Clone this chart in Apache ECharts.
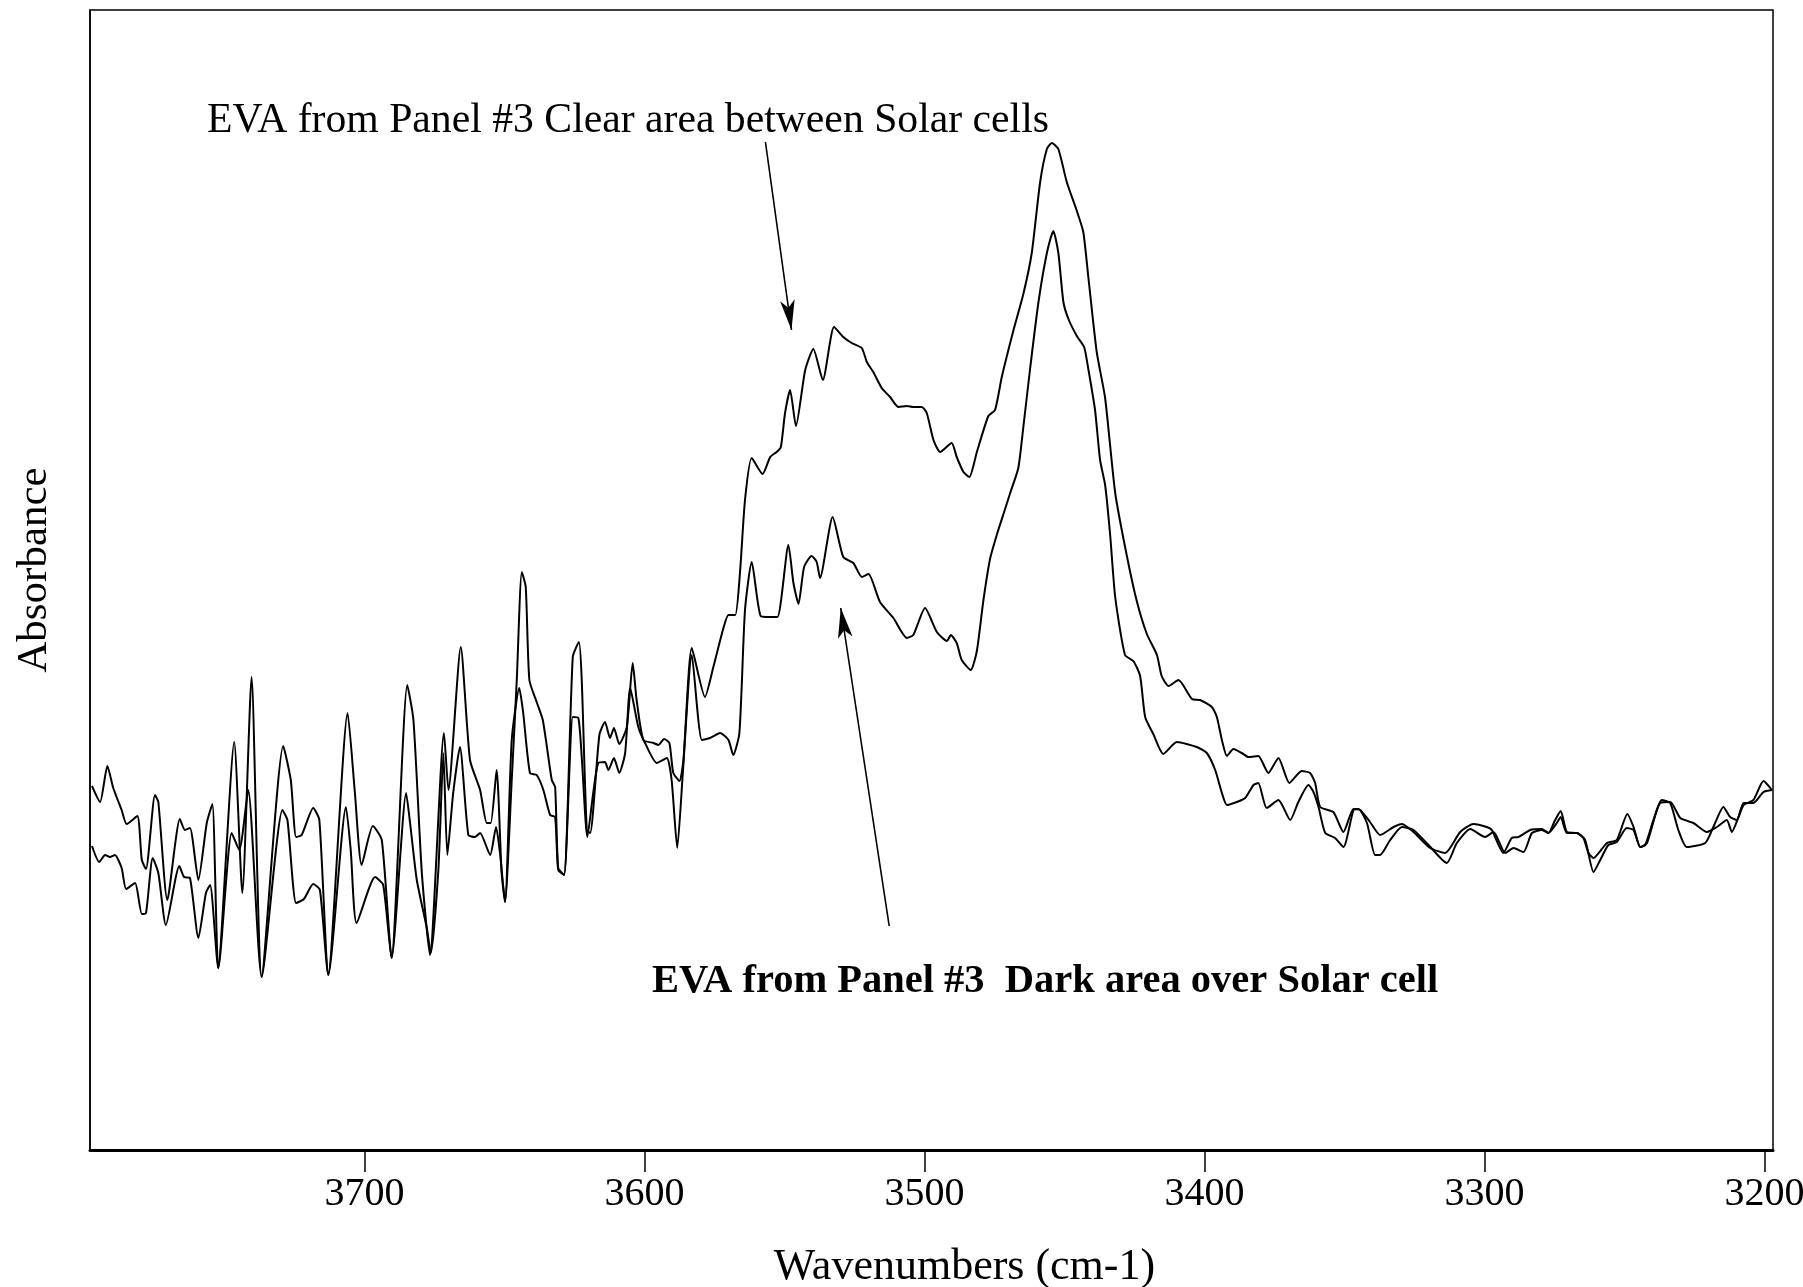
<!DOCTYPE html>
<html>
<head>
<meta charset="utf-8">
<title>EVA from Panel #3 - absorbance, 3800-3200 cm-1</title>
<script src="https://cdn.jsdelivr.net/npm/echarts@6.0.0/dist/echarts.min.js"></script>
<style>
  html, body { margin: 0; padding: 0; background: #fff; }
  #main { width: 1803px; height: 1287px; }
</style>
</head>
<body>
<div id="main"></div>
<script>
// values (absorbance in arbitrary units, no scale printed)
var wnClear = [
  3797.3, 3794.4, 3791.8, 3789.7, 3786.7, 3784.9, 3781.1, 3779.5, 3778.0, 3774.8,
  3773.6, 3770.4, 3765.9, 3764.1, 3762.3, 3759.3, 3756.3, 3754.3, 3752.2, 3746.5,
  3743.6, 3740.3, 3736.7, 3729.0, 3726.3, 3724.4, 3722.4, 3718.3, 3716.1, 3712.9,
  3706.0, 3703.4, 3701.0, 3697.0, 3693.8, 3690.3, 3684.7, 3682.5, 3679.5, 3676.6,
  3671.6, 3670.0, 3665.6, 3662.3, 3658.7, 3656.3, 3654.9, 3652.8, 3651.0, 3649.8,
  3647.4, 3645.6, 3643.8, 3642.4, 3641.1, 3638.5, 3636.3, 3633.1, 3631.9, 3630.8,
  3628.7, 3625.6, 3623.4, 3622.4, 3620.6, 3619.4, 3616.1, 3614.1, 3612.3, 3610.9,
  3609.0, 3606.3, 3604.2, 3602.8, 3600.4, 3596.8, 3595.0, 3593.0, 3591.1, 3589.7,
  3587.5, 3586.1, 3583.1, 3578.4, 3575.4, 3571.8, 3570.0, 3567.6, 3565.9, 3564.1,
  3561.7, 3557.8, 3555.1, 3552.8, 3551.3, 3549.8, 3548.0, 3545.9, 3542.6, 3539.7,
  3536.3, 3532.3, 3529.0, 3526.0, 3522.4, 3520.6, 3518.3, 3515.3, 3512.3, 3509.3,
  3506.3, 3504.0, 3501.0, 3499.2, 3496.8, 3494.4, 3490.3, 3488.5, 3486.1, 3484.0,
  3481.3, 3477.2, 3474.8, 3472.4, 3468.3, 3464.7, 3461.7, 3458.7, 3456.3, 3454.5,
  3452.2, 3449.2, 3445.6, 3443.3, 3441.5, 3438.5, 3435.5, 3431.9, 3427.8, 3424.2,
  3420.6, 3417.0, 3415.3, 3412.9, 3409.3, 3404.5, 3401.6, 3397.4, 3395.6, 3393.8,
  3392.0, 3389.7, 3386.7, 3384.3, 3380.8, 3377.2, 3373.6, 3369.7, 3365.3, 3362.3,
  3360.5, 3358.7, 3354.0, 3350.4, 3346.8, 3344.4, 3340.9, 3337.3, 3332.5, 3329.5,
  3325.4, 3319.4, 3314.1, 3308.7, 3304.0, 3299.2, 3297.4, 3293.3, 3290.3, 3287.9,
  3283.7, 3279.5, 3277.2, 3274.8, 3272.8, 3270.6, 3267.0, 3264.7, 3262.9, 3261.1,
  3256.3, 3252.8, 3249.0, 3246.8, 3244.4, 3242.6, 3237.3, 3233.7, 3230.1, 3225.4,
  3220.6, 3217.0, 3213.5, 3211.7, 3209.3, 3207.5, 3204.0, 3200.4, 3197.4
];
var absClear = [
  0.364, 0.348, 0.384, 0.362, 0.340, 0.326, 0.334, 0.290, 0.281, 0.355,
  0.348, 0.250, 0.331, 0.320, 0.322, 0.270, 0.327, 0.346, 0.182, 0.408,
  0.257, 0.473, 0.173, 0.404, 0.370, 0.313, 0.315, 0.342, 0.330, 0.175,
  0.437, 0.357, 0.285, 0.324, 0.310, 0.192, 0.465, 0.430, 0.277, 0.195,
  0.417, 0.360, 0.503, 0.390, 0.360, 0.327, 0.327, 0.380, 0.277, 0.248,
  0.370, 0.470, 0.578, 0.563, 0.470, 0.448, 0.430, 0.370, 0.363, 0.282,
  0.275, 0.493, 0.508, 0.470, 0.320, 0.317, 0.415, 0.428, 0.412, 0.422,
  0.406, 0.423, 0.487, 0.450, 0.410, 0.407, 0.405, 0.411, 0.407, 0.377,
  0.369, 0.390, 0.502, 0.453, 0.483, 0.522, 0.535, 0.535, 0.577, 0.650,
  0.692, 0.676, 0.693, 0.698, 0.703, 0.737, 0.760, 0.724, 0.780, 0.801,
  0.770, 0.823, 0.813, 0.807, 0.802, 0.788, 0.778, 0.762, 0.753, 0.743,
  0.744, 0.743, 0.743, 0.737, 0.710, 0.698, 0.707, 0.693, 0.678, 0.673,
  0.698, 0.734, 0.740, 0.773, 0.819, 0.856, 0.897, 0.968, 1.001, 1.007,
  1.001, 0.968, 0.939, 0.918, 0.873, 0.798, 0.752, 0.657, 0.595, 0.549,
  0.516, 0.495, 0.474, 0.464, 0.470, 0.451, 0.450, 0.443, 0.433, 0.410,
  0.394, 0.401, 0.397, 0.393, 0.394, 0.377, 0.392, 0.367, 0.379, 0.377,
  0.367, 0.343, 0.338, 0.318, 0.341, 0.340, 0.328, 0.315, 0.323, 0.326,
  0.318, 0.302, 0.297, 0.318, 0.326, 0.323, 0.320, 0.297, 0.312, 0.313,
  0.320, 0.321, 0.317, 0.330, 0.339, 0.318, 0.317, 0.312, 0.297, 0.292,
  0.307, 0.310, 0.336, 0.323, 0.303, 0.305, 0.347, 0.348, 0.332, 0.327,
  0.318, 0.323, 0.330, 0.318, 0.333, 0.345, 0.350, 0.369, 0.360
];
var wnDark = [
  3797.3, 3794.7, 3792.6, 3790.9, 3789.1, 3786.7, 3785.1, 3781.9, 3779.5, 3778.0,
  3775.6, 3773.6, 3770.9, 3766.1, 3764.4, 3762.3, 3759.3, 3756.6, 3755.1, 3752.2,
  3747.4, 3744.7, 3741.5, 3736.7, 3729.3, 3727.5, 3724.4, 3721.6, 3718.3, 3715.9,
  3712.9, 3706.6, 3704.9, 3702.8, 3696.2, 3693.3, 3690.3, 3685.1, 3683.7, 3681.3,
  3677.8, 3676.3, 3673.6, 3671.8, 3670.4, 3668.3, 3665.9, 3662.9, 3660.5, 3658.7,
  3655.1, 3653.0, 3651.6, 3649.8, 3647.4, 3644.7, 3643.3, 3640.9, 3638.5, 3636.1,
  3633.7, 3631.9, 3630.8, 3628.7, 3625.6, 3623.6, 3622.4, 3620.4, 3618.3, 3616.5,
  3614.1, 3612.9, 3610.9, 3609.0, 3606.9, 3605.1, 3602.2, 3599.8, 3595.6, 3592.0,
  3590.3, 3588.3, 3586.3, 3583.1, 3579.5, 3576.6, 3573.0, 3570.0, 3568.3, 3566.1,
  3564.1, 3561.7, 3558.5, 3555.1, 3552.5, 3548.6, 3546.8, 3545.0, 3543.0, 3540.3,
  3538.5, 3537.3, 3532.8, 3529.0, 3525.4, 3522.4, 3520.0, 3515.9, 3511.1, 3506.3,
  3504.0, 3499.8, 3495.6, 3492.0, 3490.6, 3488.5, 3486.7, 3483.5, 3481.3, 3479.0,
  3476.6, 3474.2, 3471.8, 3469.4, 3466.5, 3464.7, 3462.3, 3459.3, 3456.3, 3454.0,
  3452.2, 3450.4, 3448.6, 3445.6, 3443.0, 3441.5, 3439.1, 3437.3, 3435.5, 3433.7,
  3431.9, 3428.4, 3425.4, 3423.0, 3421.2, 3418.3, 3414.7, 3409.9, 3402.8, 3399.2,
  3396.2, 3393.8, 3392.0, 3388.5, 3385.5, 3382.5, 3380.8, 3377.8, 3373.6, 3369.4,
  3366.5, 3362.9, 3361.1, 3359.3, 3356.9, 3353.4, 3350.4, 3346.8, 3345.0, 3342.0,
  3339.1, 3337.3, 3333.7, 3329.5, 3325.4, 3320.0, 3313.5, 3309.9, 3305.1, 3299.8,
  3296.8, 3292.6, 3289.7, 3286.1, 3283.1, 3279.5, 3277.2, 3274.2, 3272.8, 3270.6,
  3267.0, 3264.1, 3261.1, 3258.7, 3255.8, 3252.8, 3249.2, 3246.8, 3244.4, 3242.0,
  3236.7, 3233.7, 3230.8, 3227.8, 3221.2, 3218.3, 3214.7, 3212.3, 3209.9, 3207.5,
  3204.0, 3200.4, 3197.3
];
var absDark = [
  0.304, 0.288, 0.295, 0.293, 0.295, 0.282, 0.261, 0.267, 0.236, 0.237,
  0.292, 0.277, 0.225, 0.284, 0.273, 0.272, 0.212, 0.257, 0.265, 0.182,
  0.317, 0.300, 0.360, 0.173, 0.340, 0.330, 0.247, 0.251, 0.266, 0.260,
  0.175, 0.343, 0.300, 0.227, 0.273, 0.265, 0.192, 0.357, 0.327, 0.270,
  0.223, 0.197, 0.280, 0.397, 0.295, 0.357, 0.403, 0.315, 0.313, 0.317,
  0.295, 0.323, 0.297, 0.248, 0.410, 0.462, 0.437, 0.377, 0.375, 0.360,
  0.335, 0.333, 0.280, 0.275, 0.433, 0.432, 0.393, 0.313, 0.357, 0.387,
  0.388, 0.380, 0.392, 0.377, 0.397, 0.462, 0.423, 0.407, 0.387, 0.392,
  0.370, 0.302, 0.377, 0.495, 0.410, 0.412, 0.417, 0.410, 0.395, 0.417,
  0.540, 0.588, 0.534, 0.533, 0.533, 0.605, 0.567, 0.546, 0.583, 0.594,
  0.588, 0.572, 0.633, 0.593, 0.587, 0.573, 0.576, 0.548, 0.532, 0.512,
  0.515, 0.542, 0.518, 0.509, 0.515, 0.507, 0.490, 0.480, 0.499, 0.549,
  0.591, 0.615, 0.636, 0.657, 0.682, 0.723, 0.781, 0.848, 0.897, 0.919,
  0.897, 0.848, 0.831, 0.814, 0.803, 0.781, 0.740, 0.690, 0.665, 0.615,
  0.553, 0.495, 0.489, 0.474, 0.433, 0.416, 0.396, 0.408, 0.403, 0.397,
  0.380, 0.357, 0.345, 0.348, 0.352, 0.365, 0.367, 0.342, 0.350, 0.330,
  0.348, 0.365, 0.358, 0.343, 0.317, 0.312, 0.303, 0.340, 0.341, 0.327,
  0.295, 0.295, 0.310, 0.323, 0.320, 0.305, 0.287, 0.307, 0.321, 0.313,
  0.318, 0.297, 0.302, 0.298, 0.317, 0.320, 0.317, 0.327, 0.333, 0.317,
  0.317, 0.310, 0.278, 0.290, 0.305, 0.308, 0.322, 0.320, 0.303, 0.307,
  0.350, 0.347, 0.320, 0.303, 0.307, 0.323, 0.343, 0.333, 0.330, 0.347,
  0.347, 0.358, 0.360
];
var tickValues = [3700, 3600, 3500, 3400, 3300, 3200];
// annotation arrows: [start, tip] in [wavenumber, absorbance]
var arrowClear = [[3556.8, 1.008], [3547.5, 0.820]];
var arrowDark = [[3512.6, 0.224], [3529.9, 0.542]];

var labelClear = 'EVA from Panel #3 Clear area between Solar cells';
var labelDark = 'EVA from Panel #3  Dark area over Solar cell';

var serif = '"Liberation Serif", "Times New Roman", Times, serif';

function pairs(xs, ys) {
  return xs.map(function (x, i) { return [x, ys[i]]; });
}

function arrowLine(a) {
  return [{ coord: a[0] }, { coord: a[1] }];
}

var chart = echarts.init(document.getElementById('main'));

var arrowStyle = {
  silent: true,
  animation: false,
  symbol: ['none', 'arrow'],
  symbolSize: [11, 30],
  label: { show: false },
  lineStyle: { color: '#000', width: 1.6, type: 'solid' },
  emphasis: { disabled: true }
};

var option = {
  animation: false,
  backgroundColor: '#fff',
  grid: {
    left: 90, right: 30, top: 10, bottom: 137,
    containLabel: false,
    outerBoundsMode: 'none',
    show: true, borderColor: '#000', borderWidth: 1.5
  },
  xAxis: {
    type: 'value',
    inverse: true,
    min: 3197,
    max: 3798,
    name: 'Wavenumbers (cm-1)',
    nameLocation: 'middle',
    nameGap: 95,
    nameTextStyle: { fontFamily: serif, fontSize: 44, color: '#000', padding: [0, 0, 0, 66] },
    axisLine: { show: true, onZero: false, lineStyle: { color: '#000', width: 3 } },
    axisTick: { show: true, length: 22, customValues: tickValues, lineStyle: { color: '#000', width: 1.5 } },
    axisLabel: {
      customValues: tickValues,
      hideOverlap: false,
      margin: 24,
      fontFamily: serif,
      fontSize: 40,
      color: '#000',
      formatter: function (v) { return String(v); }
    },
    splitLine: { show: false }
  },
  yAxis: {
    type: 'value',
    min: 0,
    max: 1.14,
    name: 'Absorbance',
    nameLocation: 'middle',
    nameGap: 34,
    nameTextStyle: { fontFamily: serif, fontSize: 43, color: '#000', padding: [0, 0, 0, 20] },
    axisLine: { show: true, lineStyle: { color: '#000', width: 1.5 } },
    axisTick: { show: false },
    axisLabel: { show: false },
    splitLine: { show: false }
  },
  series: [
    {
      name: 'EVA Panel #3 - clear area between solar cells',
      type: 'line',
      data: pairs(wnClear, absClear),
      showSymbol: false,
      symbol: 'none',
      smooth: 0.2,
      lineStyle: { color: '#000', width: 2 },
      emphasis: { disabled: true },
      markLine: Object.assign({ data: [arrowLine(arrowClear)] }, arrowStyle)
    },
    {
      name: 'EVA Panel #3 - dark area over solar cell',
      type: 'line',
      data: pairs(wnDark, absDark),
      showSymbol: false,
      symbol: 'none',
      smooth: 0.2,
      lineStyle: { color: '#000', width: 2 },
      emphasis: { disabled: true },
      markLine: Object.assign({ data: [arrowLine(arrowDark)] }, arrowStyle)
    }
  ],
  graphic: [
    {
      type: 'text', left: 207, top: 100,
      style: { text: labelClear, fontFamily: serif, fontSize: 41.7, fill: '#000' }
    },
    {
      type: 'text', left: 652, top: 961,
      style: { text: labelDark, fontFamily: serif, fontSize: 40.5, fontWeight: 'bold', fill: '#000' }
    }
  ]
};

chart.setOption(option);
</script>
</body>
</html>
